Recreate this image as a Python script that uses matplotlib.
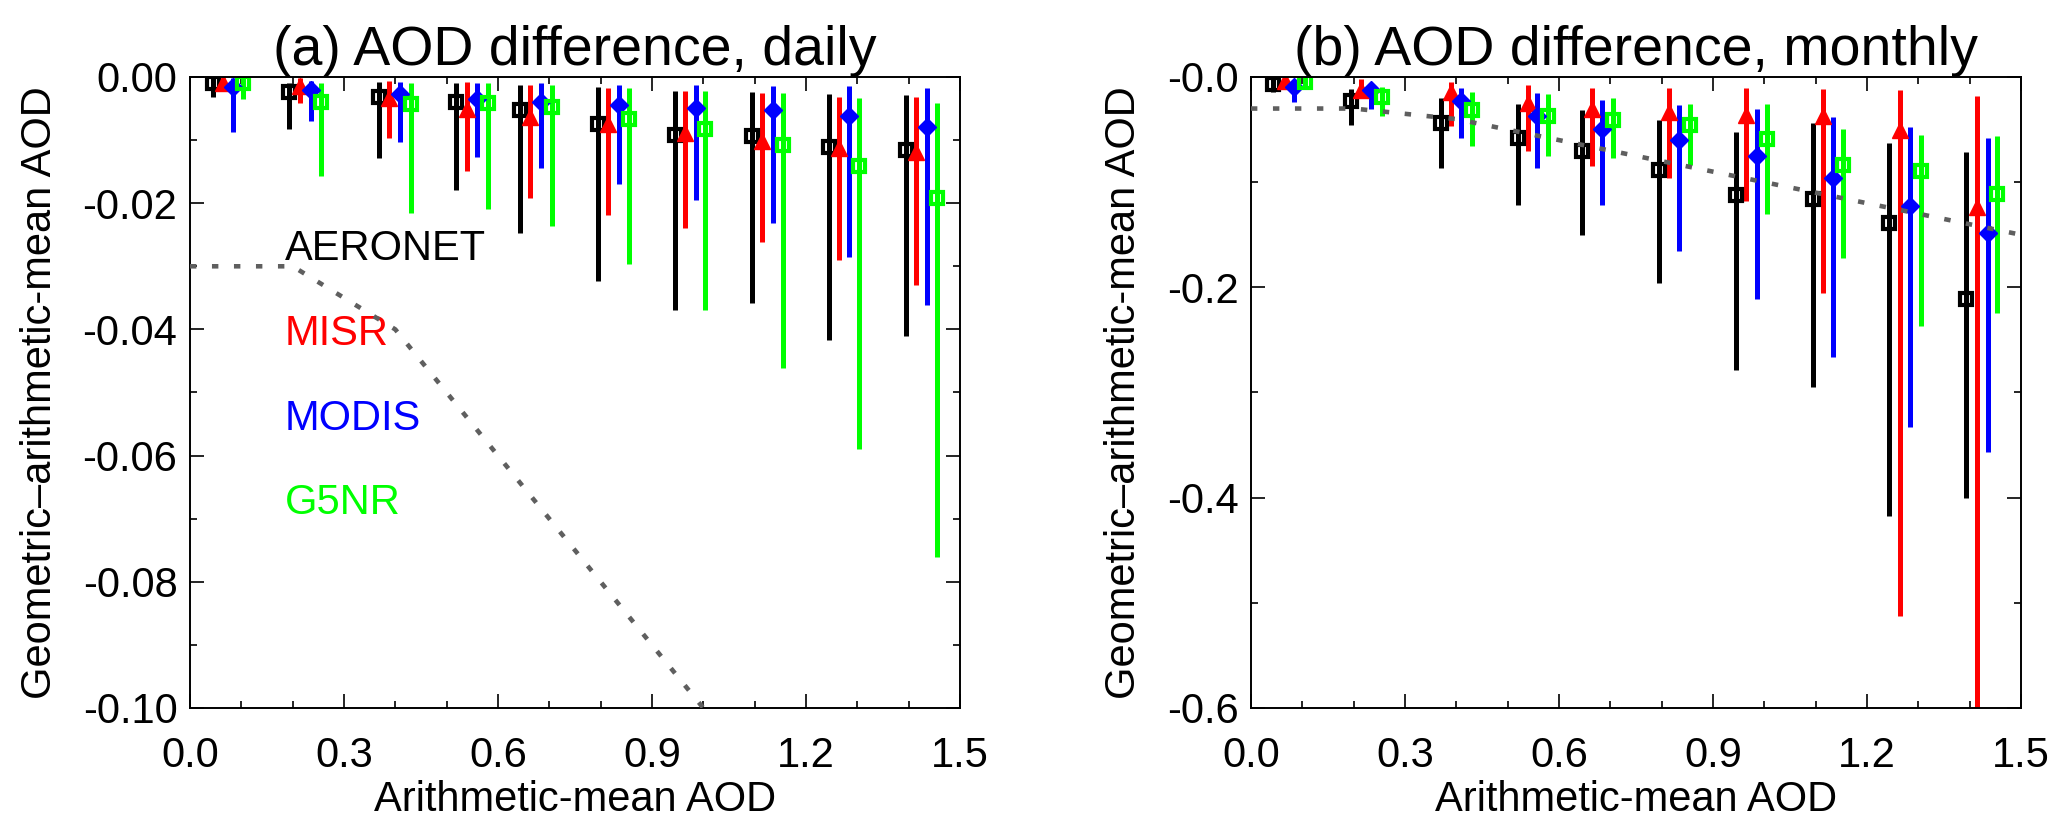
import matplotlib
matplotlib.use("Agg")
import matplotlib.pyplot as plt
import numpy as np
from matplotlib.ticker import MultipleLocator

plt.rcParams['font.family'] = ['Liberation Sans', 'DejaVu Sans']

# ---------------- panel (a): daily ----------------
aer_x_d = [0.044, 0.193, 0.368, 0.518, 0.643, 0.794, 0.945, 1.094, 1.244, 1.395]
aer_c_d = [-0.0010, -0.0023, -0.0031, -0.0039, -0.0052, -0.0075, -0.0092, -0.0094, -0.0111, -0.0116]
aer_t_d = [0.0, -0.0010, -0.0008, -0.0010, -0.0012, -0.0016, -0.0022, -0.0023, -0.0027, -0.0028]
aer_b_d = [-0.0031, -0.0083, -0.0128, -0.0179, -0.0247, -0.0323, -0.0369, -0.0358, -0.0417, -0.0410]

misr_x_d = [0.065, 0.214, 0.388, 0.539, 0.662, 0.815, 0.964, 1.114, 1.264, 1.414]
misr_c_d = [-0.0010, -0.0015, -0.0034, -0.0051, -0.0063, -0.0075, -0.0088, -0.0101, -0.0113, -0.0119]
misr_t_d = [-0.0002, -0.0002, -0.0006, -0.0008, -0.0012, -0.0018, -0.0022, -0.0026, -0.0031, -0.0032]
misr_b_d = [-0.0020, -0.0041, -0.0096, -0.0149, -0.0192, -0.0219, -0.0239, -0.0261, -0.0290, -0.0329]

modis_x_d = [0.084, 0.235, 0.409, 0.560, 0.684, 0.835, 0.985, 1.135, 1.284, 1.435]
modis_c_d = [-0.0016, -0.0021, -0.0027, -0.0035, -0.0039, -0.0044, -0.0049, -0.0052, -0.0062, -0.0079]
modis_t_d = [-0.0002, -0.0007, -0.0008, -0.0010, -0.0010, -0.0012, -0.0013, -0.0014, -0.0015, -0.0018]
modis_b_d = [-0.0087, -0.0070, -0.0103, -0.0127, -0.0145, -0.0170, -0.0195, -0.0231, -0.0286, -0.0362]

g5nr_x_d = [0.104, 0.255, 0.430, 0.580, 0.706, 0.855, 1.004, 1.155, 1.304, 1.455]
g5nr_c_d = [-0.0010, -0.0040, -0.0043, -0.0042, -0.0047, -0.0066, -0.0083, -0.0108, -0.0141, -0.0191]
g5nr_t_d = [0.0, -0.0010, -0.0010, -0.0010, -0.0013, -0.0017, -0.0022, -0.0026, -0.0034, -0.0042]
g5nr_b_d = [-0.0035, -0.0157, -0.0215, -0.0209, -0.0236, -0.0296, -0.0369, -0.0461, -0.0589, -0.0760]

# ---------------- panel (b): monthly ----------------
aer_x_m = [0.043, 0.195, 0.370, 0.520, 0.644, 0.795, 0.944, 1.094, 1.244, 1.394]
aer_c_m = [-0.0067, -0.0232, -0.0438, -0.0584, -0.0708, -0.0883, -0.1124, -0.1162, -0.1390, -0.2114]
aer_t_m = [0.0, -0.0114, -0.0203, -0.0257, -0.0311, -0.0410, -0.0521, -0.0441, -0.0632, -0.0711]
aer_b_m = [-0.0146, -0.0454, -0.0870, -0.1219, -0.1502, -0.1956, -0.2790, -0.2949, -0.4178, -0.4003]

misr_x_m = [0.066, 0.214, 0.390, 0.539, 0.665, 0.814, 0.964, 1.115, 1.264, 1.414]
misr_c_m = [-0.0035, -0.0120, -0.0145, -0.0248, -0.0300, -0.0337, -0.0359, -0.0371, -0.0505, -0.1235]
misr_t_m = [0.0, -0.0020, -0.0051, -0.0076, -0.0108, -0.0105, -0.0108, -0.0114, -0.0124, -0.0178]
misr_b_m = [-0.0080, -0.0203, -0.0464, -0.0702, -0.0851, -0.0965, -0.1178, -0.2057, -0.5130, -0.6500]

modis_x_m = [0.084, 0.233, 0.410, 0.558, 0.684, 0.834, 0.985, 1.134, 1.284, 1.435]
modis_c_m = [-0.0098, -0.0121, -0.0225, -0.0368, -0.0495, -0.0597, -0.0750, -0.0956, -0.1225, -0.1480]
modis_t_m = [-0.0035, -0.0067, -0.0108, -0.0155, -0.0219, -0.0267, -0.0305, -0.0384, -0.0479, -0.0584]
modis_b_m = [-0.0235, -0.0305, -0.0584, -0.0870, -0.1219, -0.1654, -0.2108, -0.2660, -0.3327, -0.3565]

g5nr_x_m = [0.105, 0.255, 0.430, 0.579, 0.705, 0.855, 1.005, 1.154, 1.305, 1.454]
g5nr_c_m = [-0.0044, -0.0194, -0.0311, -0.0368, -0.0410, -0.0457, -0.0590, -0.0835, -0.0892, -0.1108]
g5nr_t_m = [0.0, -0.0098, -0.0140, -0.0162, -0.0203, -0.0257, -0.0257, -0.0495, -0.0552, -0.0565]
g5nr_b_m = [-0.0100, -0.0375, -0.0660, -0.0756, -0.0775, -0.0835, -0.1300, -0.1717, -0.2368, -0.2240]

# dotted reference line, same in both panels
ref_x = [0.0, 0.2, 0.4, 0.6, 0.8, 1.0, 1.2, 1.4, 1.6]
ref_y = [-0.03, -0.03, -0.04, -0.06, -0.08, -0.10, -0.12, -0.14, -0.16]

names = ['AERONET', 'MISR', 'MODIS', 'G5NR']
colors = ['#000000', '#ff0000', '#0000ff', '#00ff00']
label_y = [-0.029, -0.0425, -0.0559, -0.0692]

xticks = [0.0, 0.3, 0.6, 0.9, 1.2, 1.5]
xticklabels = ['0.0', '0.3', '0.6', '0.9', '1.2', '1.5']
yticks_a = [0.0, -0.02, -0.04, -0.06, -0.08, -0.10]
yticklabels_a = ['0.00', '-0.02', '-0.04', '-0.06', '-0.08', '-0.10']
yticks_b = [0.0, -0.2, -0.4, -0.6]
yticklabels_b = ['-0.0', '-0.2', '-0.4', '-0.6']

daily = [(aer_x_d, aer_c_d, aer_t_d, aer_b_d),
         (misr_x_d, misr_c_d, misr_t_d, misr_b_d),
         (modis_x_d, modis_c_d, modis_t_d, modis_b_d),
         (g5nr_x_d, g5nr_c_d, g5nr_t_d, g5nr_b_d)]
monthly = [(aer_x_m, aer_c_m, aer_t_m, aer_b_m),
           (misr_x_m, misr_c_m, misr_t_m, misr_b_m),
           (modis_x_m, modis_c_m, modis_t_m, modis_b_m),
           (g5nr_x_m, g5nr_c_m, g5nr_t_m, g5nr_b_m)]

# marker style for each series
marker_kw = [
    dict(marker='s', ms=8.5, mfc='none', mew=3),
    dict(marker='^', ms=11.5, mew=1),
    dict(marker='D', ms=8.8, mew=1),
    dict(marker='s', ms=8.5, mfc='none', mew=3),
]


def draw_panel(ax, series, title, yticks, yticklabels, ylim, minor_y):
    for (x, c, t, b), col, mk in zip(series, colors, marker_kw):
        c = np.array(c)
        yerr = [c - np.array(b), np.array(t) - c]
        ax.errorbar(x, c, yerr=yerr, linestyle='none', color=col, ecolor=col,
                    mec=col, elinewidth=3.6, capsize=0, **mk)
    ax.plot(ref_x, ref_y, color='#5f5f5f', lw=3.3, linestyle=(0, (1.4, 3.4)),
            dash_capstyle='butt', zorder=4)

    ax.set_xlim(0, 1.5)
    ax.set_ylim(*ylim)
    ax.set_xticks(xticks)
    ax.set_xticklabels(xticklabels)
    ax.set_yticks(yticks)
    ax.set_yticklabels(yticklabels)
    ax.xaxis.set_minor_locator(MultipleLocator(0.1))
    ax.yaxis.set_minor_locator(MultipleLocator(minor_y))
    ax.tick_params(which='both', direction='in', top=True, right=True, width=1.2)
    ax.tick_params(which='major', length=10)
    ax.tick_params(which='minor', length=5)
    ax.tick_params(axis='x', which='major', pad=20, labelsize=30)
    ax.tick_params(axis='y', which='major', pad=9, labelsize=30)
    for sp in ax.spines.values():
        sp.set_linewidth(1.4)

    ax.set_title(title, fontsize=40, pad=7)
    ax.set_xlabel('Arithmetic-mean AOD', fontsize=30, labelpad=3)
    ax.set_ylabel('Geometric\u2013arithmetic-mean AOD', fontsize=30, labelpad=16)


fig = plt.figure(figsize=(20.67, 8.27), dpi=100)
ax1 = fig.add_axes([0.0919, 0.1439, 0.3725, 0.763])
ax2 = fig.add_axes([0.6052, 0.1439, 0.3725, 0.763])

draw_panel(ax1, daily, '(a) AOD difference, daily', yticks_a, yticklabels_a, (-0.10, 0.0), 0.01)
draw_panel(ax2, monthly, '(b) AOD difference, monthly', yticks_b, yticklabels_b, (-0.6, 0.0), 0.1)

for name, col, yy in zip(names, colors, label_y):
    ax1.text(0.185, yy, name, color=col, fontsize=30, va='baseline', ha='left')

fig.savefig('out.png', dpi=100)
